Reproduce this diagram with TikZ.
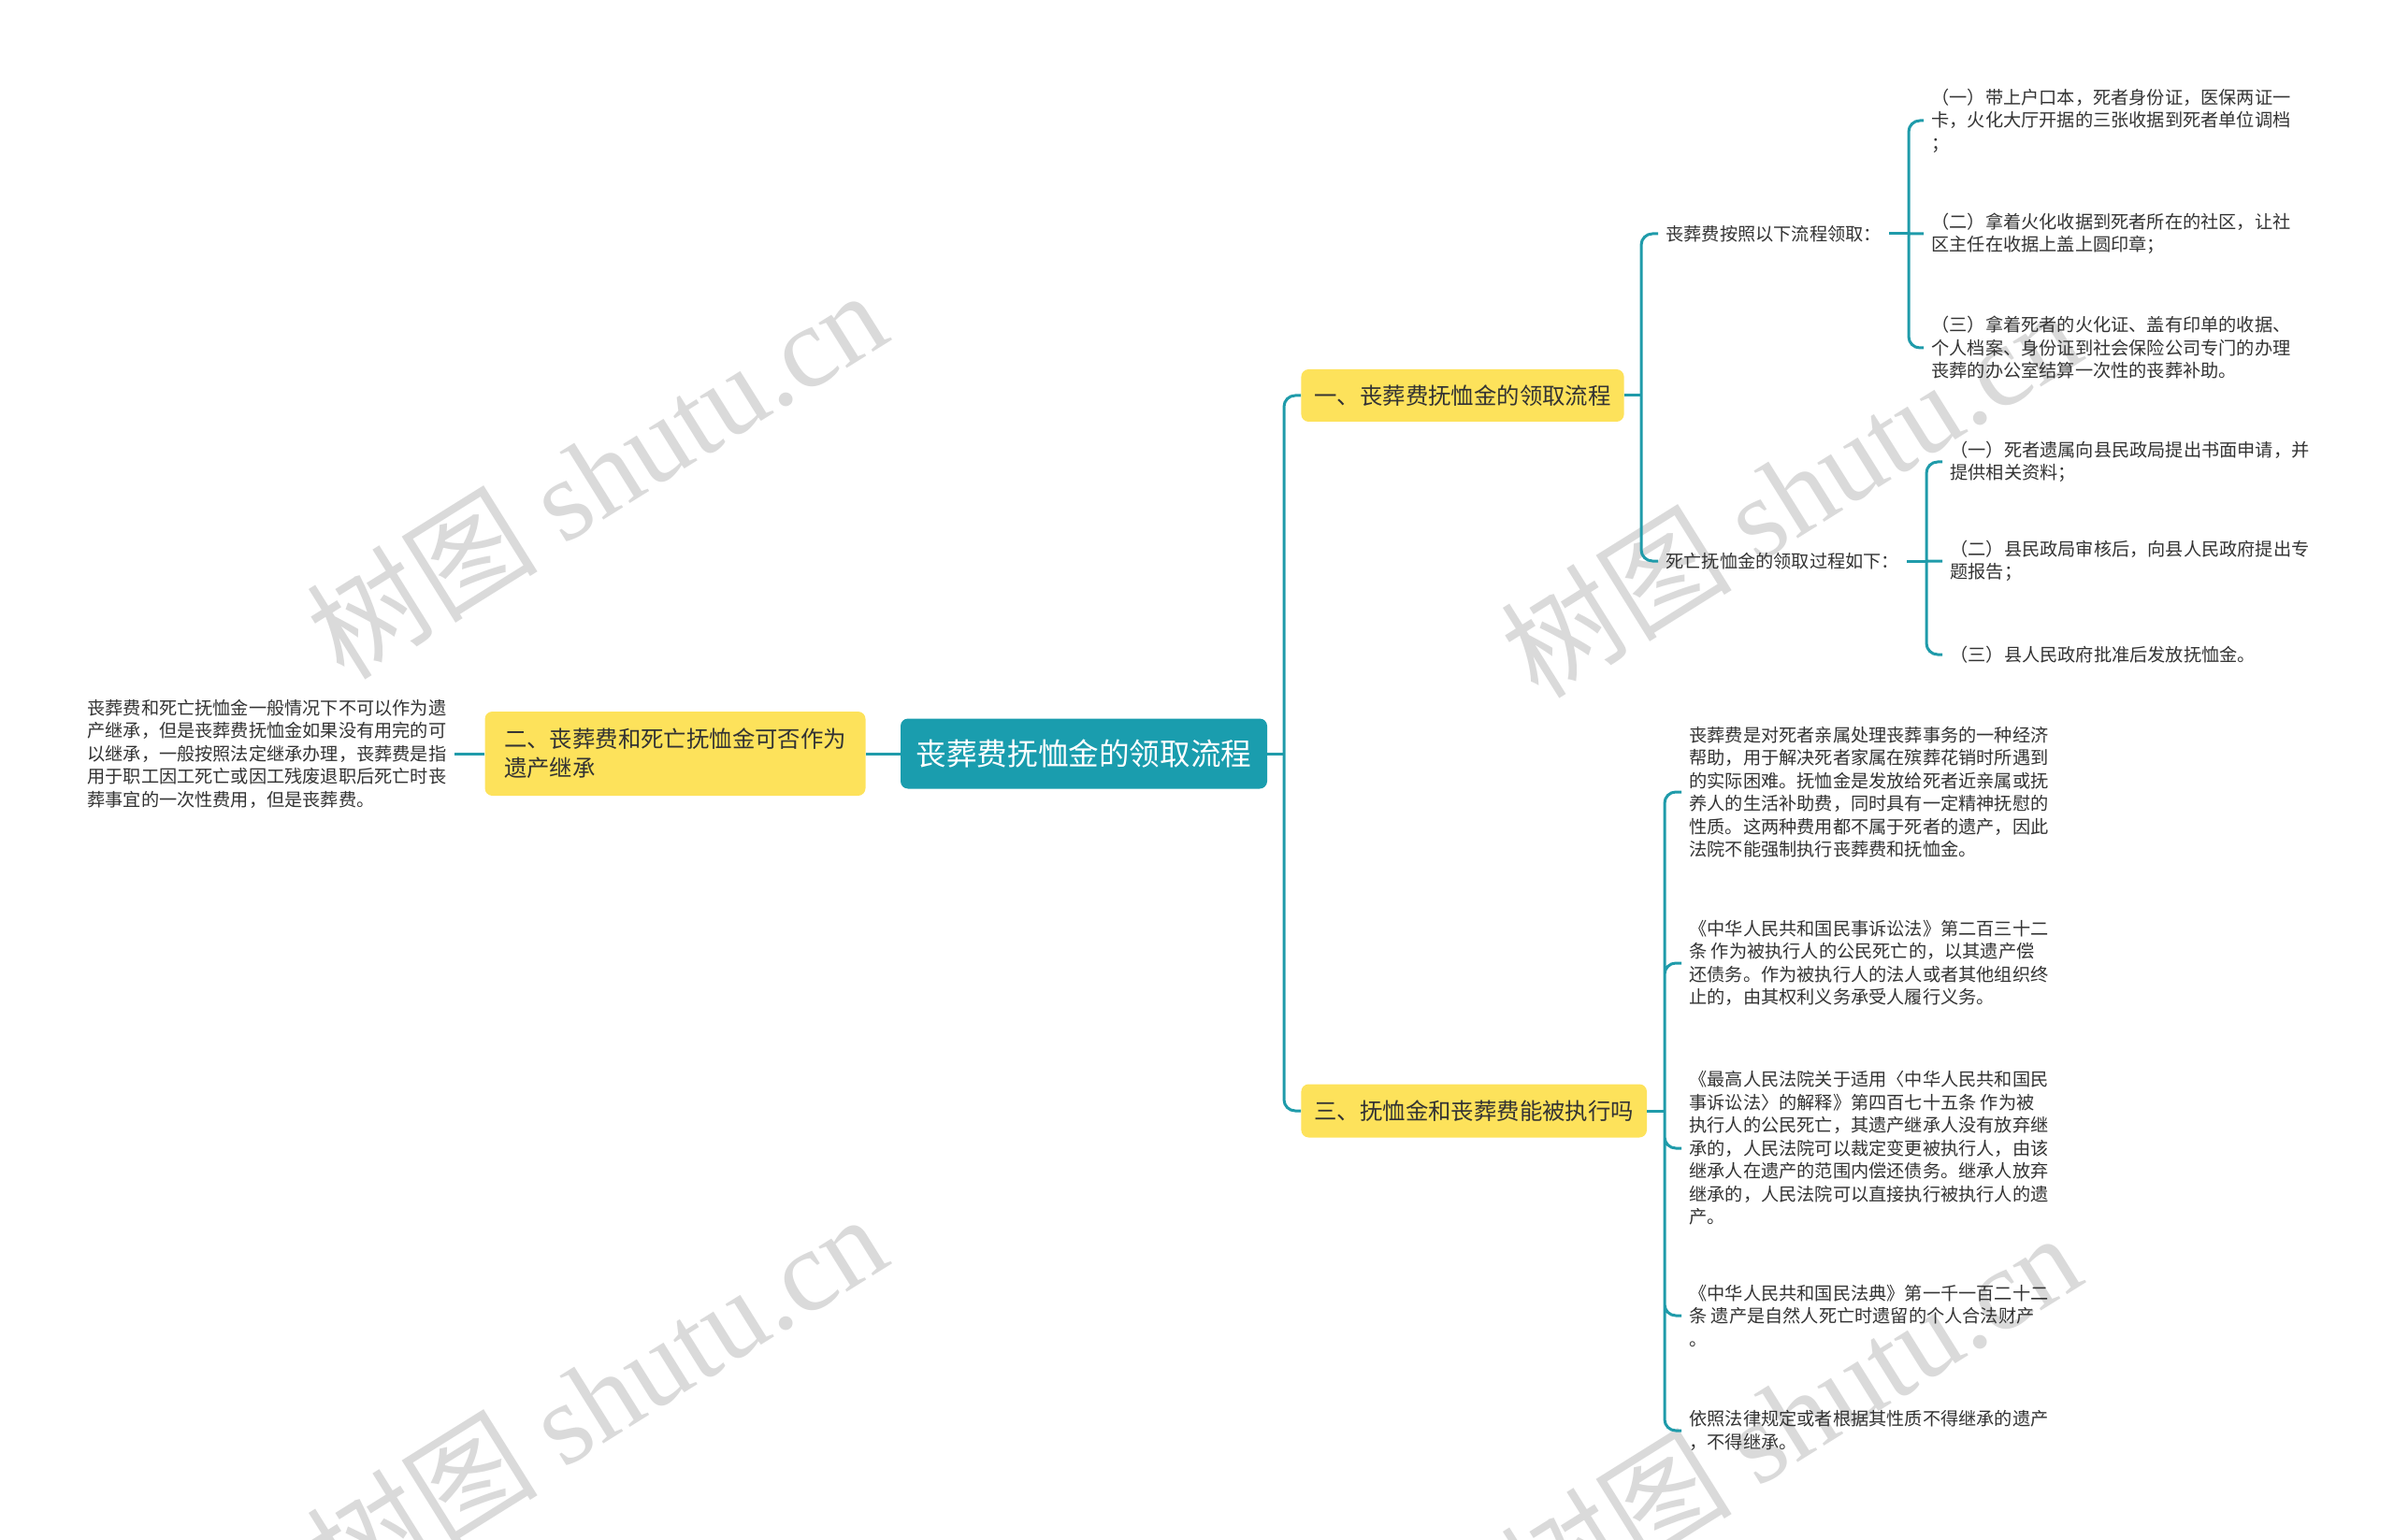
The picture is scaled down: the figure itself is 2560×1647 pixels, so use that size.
\documentclass[tikz,border=0pt]{standalone}
\usepackage{fontspec}
\setmainfont{Noto Sans CJK SC}
\newfontfamily\wmlatin{Liberation Serif}
\usepackage{xcolor}
\usetikzlibrary{positioning}
\definecolor{tealline}{HTML}{1F9BAA}
\definecolor{rootfill}{HTML}{1A9DAE}
\definecolor{branchfill}{HTML}{FDE25B}
\definecolor{textgray}{HTML}{333333}
\definecolor{wmgray}{HTML}{DADADA}
\newcommand{\leaffont}{\fontsize{9.6pt}{12.25pt}\selectfont}
\newcommand{\branchfont}{\fontsize{12.2pt}{15.5pt}\selectfont}
\newcommand{\rootfont}{\fontsize{16.3pt}{20pt}\selectfont}
\tikzset{
  rootbox/.style={fill=rootfill, text=white, font=\rootfont, rounded corners=4pt,
    minimum width=196pt, minimum height=37.5pt, inner sep=0pt},
  branchbox/.style={fill=branchfill, text=textgray, font=\branchfont, rounded corners=4pt,
    align=left, inner xsep=7pt, inner ysep=0pt},
  leaftext/.style={text=textgray, font=\leaffont, align=left, anchor=west,
    inner xsep=4pt, inner ysep=2pt},
  link/.style={draw=tealline, line width=1.5pt},
  elbow/.style={link, rounded corners=6pt},
  watermark/.style={text=wmgray, font=\fontsize{62pt}{62pt}\selectfont, rotate=32}
}

\begin{document}
\begin{tikzpicture}[x=0.5pt, y=-0.5pt]
    \useasboundingbox (0,0) rectangle (2560,1647);

    \node[watermark] (wm1) at (637,506) {树图 {\wmlatin shutu.cn}};
    \node[watermark] (wm2) at (1914,526) {树图 {\wmlatin shutu.cn}};
    \node[watermark] (wm3) at (637,1494) {树图 {\wmlatin shutu.cn}};
    \node[watermark] (wm4) at (1914,1514) {树图 {\wmlatin shutu.cn}};

    \node[rootbox] (root) at (1159,806) {丧葬费抚恤金的领取流程};

    \node[branchbox, minimum width=203.5pt, minimum height=45pt] (b2) at (722,806)
        {二、丧葬费和死亡抚恤金可否作为\\遗产继承};
    \node[leaftext] (c21) at (85,806)
        {丧葬费和死亡抚恤金一般情况下不可以作为遗\\产继承，但是丧葬费抚恤金如果没有用完的可\\以继承，一般按照法定继承办理，丧葬费是指\\用于职工因工死亡或因工残废退职后死亡时丧\\葬事宜的一次性费用，但是丧葬费。};

    \node[branchbox, minimum height=28pt, anchor=west] (b1) at (1391,423) {一、丧葬费抚恤金的领取流程};
    \node[branchbox, minimum height=28.5pt, anchor=west] (b3) at (1391,1188) {三、抚恤金和丧葬费能被执行吗};

    \node[leaftext] (m1) at (1773,250) {丧葬费按照以下流程领取：};
    \node[leaftext] (m2) at (1773,600) {死亡抚恤金的领取过程如下：};

    \node[leaftext] (a1) at (2057,129) {（一）带上户口本，死者身份证，医保两证一\\卡，火化大厅开据的三张收据到死者单位调档\\；};
    \node[leaftext] (a2) at (2057,250) {（二）拿着火化收据到死者所在的社区，让社\\区主任在收据上盖上圆印章；};
    \node[leaftext] (a3) at (2057,372) {（三）拿着死者的火化证、盖有印单的收据、\\个人档案、身份证到社会保险公司专门的办理\\丧葬的办公室结算一次性的丧葬补助。};

    \node[leaftext] (d1) at (2077,494) {（一）死者遗属向县民政局提出书面申请，并\\提供相关资料；};
    \node[leaftext] (d2) at (2077,600) {（二）县民政局审核后，向县人民政府提出专\\题报告；};
    \node[leaftext] (d3) at (2077,700) {（三）县人民政府批准后发放抚恤金。};

    \node[leaftext] (e1) at (1798,847) {丧葬费是对死者亲属处理丧葬事务的一种经济\\帮助，用于解决死者家属在殡葬花销时所遇到\\的实际困难。抚恤金是发放给死者近亲属或抚\\养人的生活补助费，同时具有一定精神抚慰的\\性质。这两种费用都不属于死者的遗产，因此\\法院不能强制执行丧葬费和抚恤金。};
    \node[leaftext] (e2) at (1798,1030) {《中华人民共和国民事诉讼法》第二百三十二\\条 作为被执行人的公民死亡的，以其遗产偿\\还债务。作为被执行人的法人或者其他组织终\\止的，由其权利义务承受人履行义务。};
    \node[leaftext] (e3) at (1798,1228) {《最高人民法院关于适用〈中华人民共和国民\\事诉讼法〉的解释》第四百七十五条 作为被\\执行人的公民死亡，其遗产继承人没有放弃继\\承的，人民法院可以裁定变更被执行人，由该\\继承人在遗产的范围内偿还债务。继承人放弃\\继承的，人民法院可以直接执行被执行人的遗\\产。};
    \node[leaftext] (e4) at (1798,1407) {《中华人民共和国民法典》第一千一百二十二\\条 遗产是自然人死亡时遗留的个人合法财产\\。};
    \node[leaftext] (e5) at (1798,1530) {依照法律规定或者根据其性质不得继承的遗产\\，不得继承。};

    \coordinate (j0) at (1373,806);
    \coordinate (j1) at (1755,423);
    \coordinate (ja) at (2041,250);
    \coordinate (jb) at (2060,600);
    \coordinate (j3) at (1780,1188);

    \draw[link]
    (root.west) -- (b2.east)
    (b2.west) -- (c21.east)
    (root.east) -- (j0)
    (b1.east) -- (j1)
    (m1.east) -- (ja)
    (m2.east) -- (jb)
    (b3.east) -- (j3);

    \draw[elbow]
    (j0) |- (b1.west) (j0) |- (b3.west)
    (j1) |- (m1.west) (j1) |- (m2.west)
    (ja) |- (a1.west) (ja) -- (a2.west) (ja) |- (a3.west)
    (jb) |- (d1.west) (jb) -- (d2.west) (jb) |- (d3.west)
    (j3) |- (e1.west) (j3) |- (e2.west) (j3) |- (e3.west) (j3) |- (e4.west) (j3) |- (e5.west);
\end{tikzpicture}
\end{document}
